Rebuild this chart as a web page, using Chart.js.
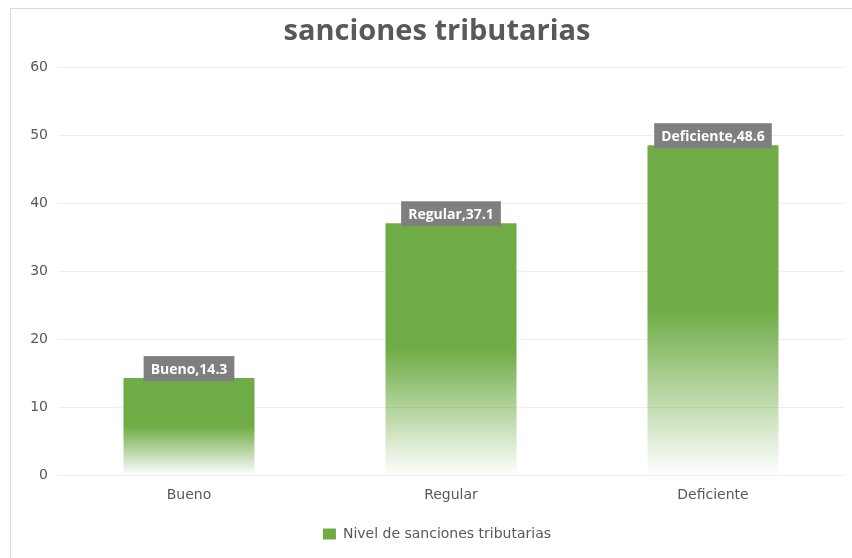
<!DOCTYPE html>
<html>
<head>
<meta charset="utf-8">
<script src="https://cdn.jsdelivr.net/npm/chart.js@4"></script>
<style>
  html, body { margin: 0; padding: 0; background: #fff; }
  #wrap { position: relative; width: 852px; height: 558px; }
  #frame { position: absolute; left: 10px; top: 8px; right: -2px; bottom: -2px; border-left: 1px solid #d9d9d9; border-top: 1px solid #d9d9d9; pointer-events: none; }
</style>
</head>
<body>
<div id="wrap">
  <canvas id="chart" width="852" height="558"></canvas>
  <div id="frame"></div>
</div>
<script>
const categories = ["Bueno", "Regular", "Deficiente"];
const values = [14.3, 37.1, 48.6];
const seriesName = "Nivel de sanciones tributarias";
const titleText = "sanciones tributarias";

const green = "#6fac46";
const textGray = "#595959";
const axisFont = { family: "'DejaVu Sans'", size: 14 };

// fade each bar from solid green (top half) to white at the base
function barGradient(context) {
    const chart = context.chart;
    const y = chart.scales.y;
    if (!chart.chartArea || !y || context.dataIndex === undefined) return green;
    const top = y.getPixelForValue(context.raw);
    const base = y.getPixelForValue(0);
    const g = chart.ctx.createLinearGradient(0, top, 0, base);
    g.addColorStop(0, green);
    g.addColorStop(0.5, green);
    g.addColorStop(1, "rgba(111,172,70,0)");
    return g;
}

// gray label boxes "Category,value" on top of each bar
const labelBoxes = {
    id: "labelBoxes",
    afterDatasetsDraw(chart) {
        const ctx = chart.ctx;
        const meta = chart.getDatasetMeta(0);
        ctx.save();
        ctx.font = "bold 14px 'Open Sans'";
        ctx.textAlign = "center";
        ctx.textBaseline = "middle";
        meta.data.forEach((bar, i) => {
            const text = categories[i] + "," + values[i];
            const w = ctx.measureText(text).width + 14;
            const h = 25;
            const bottom = bar.y + 3;
            ctx.fillStyle = "#7f7f7f";
            ctx.fillRect(bar.x - w / 2, bottom - h, w, h);
            ctx.fillStyle = "#ffffff";
            ctx.fillText(text, bar.x, bottom - h / 2 + 1);
        });
        ctx.restore();
    }
};

const ctx = document.getElementById("chart");
new Chart(ctx, {
    type: "bar",
    data: {
        labels: categories,
        datasets: [{
            label: seriesName,
            data: values,
            backgroundColor: barGradient,
            borderWidth: 0,
            categoryPercentage: 1,
            barPercentage: 0.5
        }]
    },
    options: {
        responsive: false,
        animation: false,
        layout: { padding: { left: 30, right: 8, top: 0, bottom: 7 } },
        scales: {
            x: {
                grid: { display: false },
                border: { display: false },
                afterFit: (scale) => { scale.height += 9; },
                ticks: { color: textGray, font: axisFont, padding: 4 }
            },
            y: {
                min: 0,
                max: 60,
                afterFit: (scale) => { scale.width = 28; },
                grid: { color: "#eeeeee", drawTicks: false },
                border: { display: false },
                ticks: { stepSize: 10, color: textGray, font: axisFont, padding: 10 }
            }
        },
        plugins: {
            title: {
                display: true,
                text: titleText,
                color: textGray,
                font: { family: "'Open Sans'", size: 29, weight: "bold" },
                padding: { top: 14, bottom: 19 }
            },
            legend: {
                position: "bottom",
                labels: {
                    color: textGray,
                    font: { family: "'DejaVu Sans'", size: 14 },
                    boxWidth: 13,
                    boxHeight: 11,
                    padding: 10,
                    generateLabels: (chart) => [{
                        text: seriesName,
                        fillStyle: green,
                        strokeStyle: green,
                        lineWidth: 0,
                        fontColor: textGray,
                        datasetIndex: 0
                    }]
                }
            },
            tooltip: { enabled: false }
        }
    },
    plugins: [labelBoxes]
});
</script>
</body>
</html>
